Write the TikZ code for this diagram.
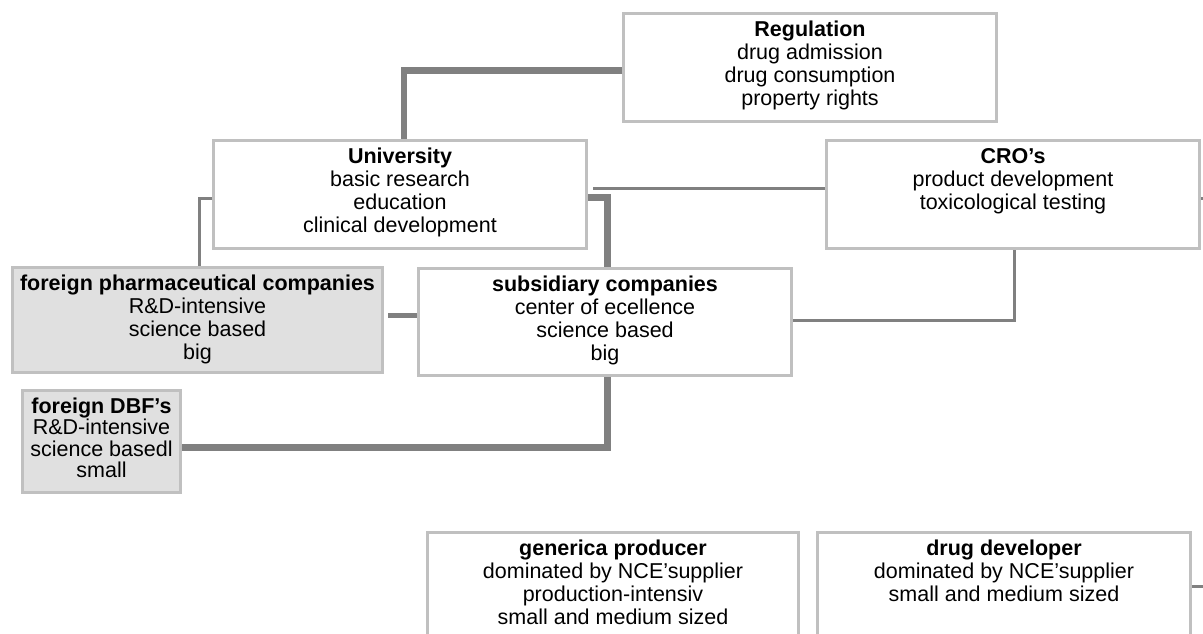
\documentclass[tikz,border=0pt]{standalone}
\usepackage{fontspec}
\setmainfont{Liberation Sans}
\definecolor{boxgray}{RGB}{192,192,192}
\definecolor{linegray}{RGB}{128,128,128}
\definecolor{fillgray}{RGB}{224,224,224}
\begin{document}
\begin{tikzpicture}[x=1pt,y=-1pt,
  box/.style={draw=boxgray, line width=3pt, fill=white, rectangle, inner sep=0pt, anchor=north west},
  darkbox/.style={box, fill=fillgray},
  txt/.style={anchor=north, align=center, inner sep=0pt, yshift=-7pt, font=\fontsize{21.5}{23}\selectfont},
  txtsmall/.style={txt, font=\fontsize{21.5}{21.5}\selectfont},
  conthick/.style={draw=linegray, line width=6.5pt, line join=miter},
  conmid/.style={draw=linegray, line width=5pt, line join=miter},
  conthin/.style={draw=linegray, line width=3pt, line join=miter}
]
\useasboundingbox (0,0) rectangle (1203,633);
\clip (0,0) rectangle (1203,633);

% boxes
\node[box, minimum width=373pt, minimum height=108pt] (reg) at (622,12) {};
\node[box, minimum width=373pt, minimum height=108pt] (uni) at (212,139) {};
\node[box, minimum width=373pt, minimum height=108pt] (cro) at (825,139) {};
\node[darkbox, minimum width=370pt, minimum height=105pt] (pharma) at (11,266) {};
\node[box, minimum width=373pt, minimum height=107pt] (sub) at (417,267) {};
\node[darkbox, minimum width=158pt, minimum height=102pt] (dbf) at (21,389) {};
\node[box, minimum width=371pt, minimum height=140pt] (gen) at (426,531) {};
\node[box, minimum width=373pt, minimum height=140pt] (dd) at (816,531) {};

% texts
\node[txt] (regt) at (reg.north) {\rule{0pt}{17pt}\textbf{Regulation}\\drug admission\\drug consumption\\property rights};
\node[txt] (unit) at (uni.north) {\rule{0pt}{17pt}\textbf{University}\\basic research\\education\\clinical development};
\node[txt] (crot) at (cro.north) {\rule{0pt}{17pt}\textbf{CRO’s}\\product development\\toxicological testing};
\node[txt] (pharmat) at (pharma.north) {\rule{0pt}{17pt}\textbf{foreign pharmaceutical companies}\\R\&D-intensive\\science based\\big};
\node[txt] (subt) at (sub.north) {\rule{0pt}{17pt}\textbf{subsidiary companies}\\center of ecellence\\science based\\big};
\node[txtsmall] (dbft) at (dbf.north) {\rule{0pt}{17pt}\textbf{foreign DBF’s}\\R\&D-intensive\\science basedl\\small};
\node[txt] (gent) at (gen.north) {\rule{0pt}{17pt}\textbf{generica producer}\\dominated by NCE’supplier\\production-intensiv\\small and medium sized};
\node[txt] (ddt) at (dd.north) {\rule{0pt}{17pt}\textbf{drug developer}\\dominated by NCE’supplier\\small and medium sized};

% stub ends
\coordinate (crostub) at (1206,198);
\coordinate (ddstub) at (1206,586);

% connectors
\draw[conthick] ([yshift=-3pt]reg.west) -| ([xshift=4pt]uni.north);
\draw[conthin] ([yshift=-4pt]uni.west) -| ([xshift=2pt]pharma.north);
\draw[conthin, shorten <=5pt] ([yshift=6pt]uni.east) -- ([yshift=6pt]cro.west);
\draw[conthick] ([yshift=-3pt]uni.east) -| ([xshift=2.5pt]sub.north);
\draw[conmid, shorten <=4pt] ([yshift=4.5pt]pharma.east) -- ([yshift=6.5pt]sub.west);
\draw[conthick] ([xshift=2.5pt]sub.south) |- ([yshift=-6pt]dbf.east);
\draw[conthin] ([xshift=1.5pt]cro.south) |- ([yshift=1.5pt]sub.east);
\draw[conthin] (cro.east |- crostub) -- (crostub);
\draw[conthin] (dd.east |- ddstub) -- (ddstub);
\end{tikzpicture}
\end{document}
